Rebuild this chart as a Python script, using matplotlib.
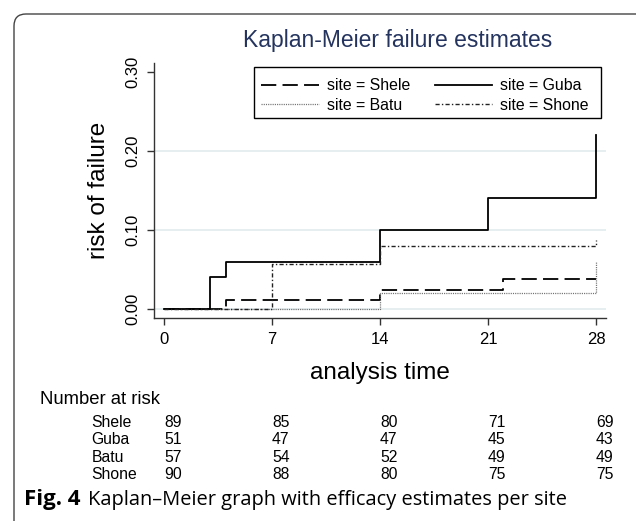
import matplotlib
matplotlib.use("Agg")
import matplotlib.pyplot as plt
import matplotlib.patches as mpatches
import matplotlib.transforms as mtrans

# ---------------- data ----------------
sites = ["Shele", "Guba", "Batu", "Shone"]
shele_t = [0, 4, 14, 22, 28]
shele_v = [0.0, 0.012, 0.024, 0.038, 0.038]
guba_t = [0, 3, 4, 14, 21, 28]
guba_v = [0.0, 0.04, 0.06, 0.10, 0.14, 0.22]
batu_t = [0, 14, 28]
batu_v = [0.0, 0.02, 0.06]
shone_t = [0, 7, 14, 28]
shone_v = [0.0, 0.057, 0.080, 0.087]

x_ticks = [0, 7, 14, 21, 28]
y_ticks = [0.0, 0.10, 0.20, 0.30]
y_ticklabels = ["0.00", "0.10", "0.20", "0.30"]

risk_times = [0, 7, 14, 21, 28]
risk_shele = [89, 85, 80, 71, 69]
risk_guba = [51, 47, 47, 45, 43]
risk_batu = [57, 54, 52, 49, 49]
risk_shone = [90, 88, 80, 75, 75]

title = "Kaplan-Meier failure estimates"
xlabel = "analysis time"
ylabel = "risk of failure"
caption_bold = "Fig. 4"
caption_text = "Kaplan\u2013Meier graph with efficacy estimates per site"

# ---------------- figure ----------------
plt.rcParams["font.family"] = ["Liberation Sans", "DejaVu Sans"]
plt.rcParams["lines.scale_dashes"] = False

W, H = 636, 521
fig = plt.figure(figsize=(W / 100, H / 100), dpi=100)
fig.patch.set_facecolor("white")

def fx(px):
    return px / W

def fy(py):
    return 1 - py / H

ax = fig.add_axes([fx(154), fy(318), fx(606) - fx(154), fy(63) - fy(318)])
ax.set_xlim(-0.65, 28.65)
ax.set_ylim(-0.0114, 0.3114)

for gy in y_ticks[:-1]:
    ax.axhline(gy, color="#e3ebee", lw=1.2, zorder=0)

ax.step(shele_t, shele_v, where="post", color="black", lw=1.3,
        linestyle=(0, (11, 4.5)), label="site = Shele")
ax.step(batu_t, batu_v, where="post", color="#707070", lw=0.9,
        linestyle=(0, (0.8, 0.8)), label="site = Batu")
ax.step(guba_t, guba_v, where="post", color="black", lw=1.3,
        linestyle="-", label="site = Guba")
ax.step(shone_t, shone_v, where="post", color="#222222", lw=1.0,
        linestyle=(0, (3, 1.6, 1, 1.6)), label="site = Shone")

for s in ["top", "right"]:
    ax.spines[s].set_visible(False)
for s in ["left", "bottom"]:
    ax.spines[s].set_color("#333333")
    ax.spines[s].set_linewidth(1.0)

ax.set_xticks(x_ticks)
ax.set_xticklabels([str(t) for t in x_ticks], fontsize=12)
ax.set_yticks(y_ticks)
ax.set_yticklabels(y_ticklabels, fontsize=12, rotation=90, va="center")
ax.tick_params(axis="both", direction="out", length=5, width=1.0,
               color="#333333", pad=5)

ax.set_xlabel(xlabel, fontsize=17.5)
ax.xaxis.set_label_coords(0.5, fy(378.5), transform=mtrans.blended_transform_factory(ax.transAxes, fig.transFigure))
ax.xaxis.label.set_va("baseline")
ax.set_ylabel(ylabel, fontsize=17.5)
ax.yaxis.set_label_coords(fx(99), 0.5, transform=mtrans.blended_transform_factory(fig.transFigure, ax.transAxes))
ax.yaxis.label.set_va("center")

leg = ax.legend(ncol=2, loc="upper left",
                bbox_to_anchor=(fx(254), fy(71)), bbox_transform=fig.transFigure,
                borderaxespad=0, fontsize=11.4, handlelength=3.65,
                handletextpad=0.5, columnspacing=1.55, borderpad=0.45,
                labelspacing=0.28, frameon=False)
legbox = mpatches.Rectangle((fx(254), fy(118)), fx(601) - fx(254), fy(67) - fy(118),
                            transform=fig.transFigure, facecolor="white",
                            edgecolor="black", lw=1.0, zorder=4)
fig.add_artist(legbox)
leg.set_zorder(5)
fig.add_artist(leg)

fig.text(fx(397.5), fy(40), title, fontsize=16.5, color="#24345f",
         ha="center", va="center")

# ---------------- number at risk table ----------------
fig.text(fx(40), fy(404), "Number at risk", fontsize=13.3, ha="left", va="baseline")
rows = [risk_shele, risk_guba, risk_batu, risk_shone]
baselines = [426.7, 444.2, 461.7, 479.2]
bt = mtrans.blended_transform_factory(ax.transData, fig.transFigure)
for name, vals, by in zip(sites, rows, baselines):
    fig.text(fx(91.7), fy(by), name, fontsize=11.3, ha="left", va="baseline")
    for t, v in zip(risk_times, vals):
        ax.text(t, fy(by), str(v), fontsize=11.3, ha="left", va="baseline",
                transform=bt, clip_on=False)

# ---------------- caption ----------------
cap_family = ["Open Sans", "DejaVu Sans"]
tb = fig.text(fx(24), fy(505), caption_bold, fontsize=13, fontweight="bold",
              family=cap_family, ha="left", va="baseline")
tr = fig.text(fx(88), fy(505), caption_text, fontsize=13,
              family=cap_family, ha="left", va="baseline")
fig.canvas.draw()
r = fig.canvas.get_renderer()
wb = tb.get_window_extent(r).width
tb.set_fontsize(13 * 56 / wb)
wr = tr.get_window_extent(r).width
tr.set_fontsize(13 * 475 / wr)

# ---------------- frame ----------------
frame = mpatches.FancyBboxPatch((14, -30), 720, H - 14 + 30,
                                boxstyle="round,pad=0,rounding_size=12",
                                transform=mtrans.IdentityTransform(),
                                facecolor="none", edgecolor="#444444", lw=1.0,
                                clip_on=False)
fig.add_artist(frame)

fig.savefig("out.png", dpi=100)
